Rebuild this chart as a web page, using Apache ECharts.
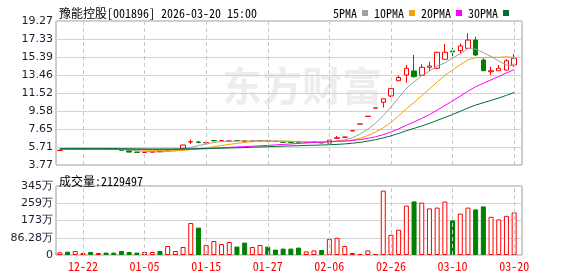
<!DOCTYPE html>
<html><head><meta charset="utf-8">
<script src="https://cdn.jsdelivr.net/npm/echarts@6/dist/echarts.min.js"></script>
<style>html,body{margin:0;padding:0;background:#fff}#c{width:578px;height:276px}</style>
</head><body><div id="c"></div>
<script>
const dates = ['12-17','12-18','12-19','12-22','12-23','12-24','12-25','12-26','12-29','12-30','12-31',
'01-05','01-06','01-07','01-08','01-09','01-12','01-13','01-14','01-15','01-16','01-19','01-20','01-21','01-22','01-23','01-26','01-27','01-28','01-29','01-30',
'02-02','02-03','02-04','02-05','02-06','02-09','02-10','02-11','02-12','02-13','02-24','02-25','02-26','02-27',
'03-02','03-03','03-04','03-05','03-06','03-09','03-10','03-11','03-12','03-13','03-16','03-17','03-18','03-19','03-20'];
const opens  = [5.33,5.52,5.47,5.51,5.53,5.50,5.52,5.49,5.45,5.30,5.16,5.12,5.15,5.24,5.30,5.44,5.58,6.25,6.24,6.16,6.40,6.38,6.34,6.40,6.34,6.34,6.38,6.37,6.31,6.24,6.22,6.23,6.19,6.26,6.17,6.12,6.64,6.75,7.45,8.19,9.01,9.91,10.52,11.20,12.84,13.46,13.89,13.43,14.29,14.18,15.15,16.04,16.07,16.33,17.22,15.07,13.81,13.92,13.99,14.53];
const closes = [5.36,5.49,5.53,5.53,5.50,5.52,5.49,5.45,5.35,5.16,5.13,5.15,5.20,5.20,5.45,5.47,5.92,6.28,6.22,6.18,6.39,6.39,6.35,6.39,6.35,6.35,6.39,6.35,6.30,6.22,6.20,6.22,6.20,6.28,6.15,6.45,6.70,6.77,7.45,8.19,9.01,9.91,10.90,11.99,13.19,14.18,13.28,14.29,14.43,15.90,15.90,15.95,16.58,17.22,15.61,13.92,13.92,14.18,15.00,15.26];
const lows   = [5.31,5.46,5.45,5.49,5.48,5.48,5.47,5.44,5.33,5.14,5.11,5.10,5.13,5.18,5.28,5.40,5.55,6.05,6.10,6.12,6.30,6.35,6.32,6.36,6.32,6.32,6.36,6.33,6.28,6.20,6.18,6.20,6.17,6.24,6.13,6.10,6.60,6.70,7.45,8.19,9.01,9.91,9.95,11.05,12.80,12.63,13.17,13.35,13.92,14.10,15.10,15.32,15.79,16.30,15.50,13.90,13.46,13.88,13.95,14.35];
const highs  = [5.38,5.54,5.55,5.55,5.55,5.54,5.53,5.50,5.46,5.30,5.18,5.17,5.22,5.26,5.48,5.50,5.95,6.51,6.35,6.22,6.45,6.42,6.38,6.42,6.38,6.37,6.41,6.38,6.33,6.26,6.24,6.25,6.22,6.30,6.19,6.47,6.90,6.82,7.45,8.19,9.01,9.91,10.90,11.99,13.40,14.53,15.61,14.61,14.89,15.95,16.79,16.40,16.87,17.95,17.58,15.26,14.35,14.53,15.15,15.72];
// volume in 万 (10k shares)
const volumes = [13.6,16.6,20,10,15,10,12,12,20,15,12,15,15,20,45,20,40,160,137,50,70,55,65,42,62,40,50,42,27,32,32,37,18,23,25,80,86,45,10,5,23,5,322,101,126,247,268,262,233,237,267,173,207,237,228,243,191,178,196,212.9497];
const volUp = [1,0,1,1,0,1,0,0,0,0,0,1,1,0,1,1,1,1,0,1,1,1,1,0,0,1,1,0,0,0,0,0,1,1,0,1,1,1,1,1,1,1,1,1,1,1,0,1,1,1,1,0,1,1,0,0,1,1,1,1];
const ma5  = [5.45,5.47,5.48,5.48,5.48,5.51,5.51,5.50,5.46,5.39,5.32,5.25,5.20,5.17,5.23,5.29,5.45,5.66,5.87,6.01,6.20,6.29,6.31,6.34,6.37,6.37,6.37,6.37,6.35,6.32,6.29,6.26,6.23,6.22,6.21,6.26,6.36,6.47,6.70,7.11,7.62,8.27,9.09,10.00,11.00,12.03,12.71,13.39,13.87,14.42,14.76,15.29,15.75,16.31,16.25,15.86,15.45,14.97,14.53,14.46];
const ma10 = [5.48,5.48,5.48,5.48,5.48,5.48,5.48,5.47,5.46,5.44,5.42,5.38,5.35,5.32,5.31,5.31,5.35,5.43,5.52,5.62,5.75,5.87,5.99,6.10,6.19,6.28,6.33,6.34,6.34,6.35,6.33,6.31,6.30,6.29,6.27,6.28,6.31,6.35,6.46,6.66,6.94,7.31,7.78,8.35,9.06,9.83,10.49,11.24,11.94,12.71,13.40,14.00,14.57,15.09,15.33,15.31,15.37,15.36,15.42,15.35];
const ma20 = [5.47,5.47,5.47,5.47,5.47,5.47,5.47,5.47,5.47,5.46,5.45,5.45,5.44,5.44,5.44,5.44,5.45,5.47,5.50,5.53,5.58,5.63,5.67,5.71,5.75,5.79,5.84,5.88,5.93,5.98,6.04,6.09,6.14,6.20,6.23,6.28,6.32,6.34,6.40,6.50,6.64,6.81,7.04,7.32,7.66,8.05,8.40,8.79,9.20,9.68,10.17,10.66,11.18,11.72,12.20,12.57,12.93,13.30,13.68,14.03];
const ma30 = [5.55,5.55,5.55,5.55,5.55,5.55,5.55,5.55,5.53,5.52,5.51,5.50,5.50,5.50,5.50,5.50,5.51,5.52,5.53,5.54,5.56,5.58,5.60,5.62,5.65,5.68,5.71,5.74,5.77,5.80,5.83,5.85,5.88,5.90,5.92,5.95,5.99,6.04,6.11,6.21,6.34,6.50,6.69,6.91,7.17,7.46,7.71,7.97,8.25,8.57,8.89,9.21,9.55,9.91,10.22,10.47,10.72,10.98,11.27,11.57];
const priceTicks = ['3.77','5.71','7.65','9.58','11.52','13.46','15.39','17.33','19.27'];
const volTicks = ['0','86.28万','173万','259万','345万'];
const xLabelDates = ['12-22','01-05','01-15','01-27','02-06','02-26','03-10','03-20'];
const priceMin = 3.77, priceMax = 19.27, volMax = 345.12;
const titleText = '豫能控股[001896] 2026-03-20 15:00';
const volText = '成交量:2129497';
const maNames = ['5PMA','10PMA','20PMA','30PMA'];
const maColors = ['#a0a0a0','#f2a300','#ff00ff','#006f35'];

const RED = '#ff0000', GREEN = '#008000';
const MONO = "'Noto Sans Mono CJK SC','Noto Sans CJK SC','DejaVu Sans Mono',monospace";
const AXF = "'DejaVu Sans',sans-serif";
const L = 56, W = 466, WD = 462;

const chart = echarts.init(document.getElementById('c'), null, {renderer:'canvas'});
const vlines = {
  silent: true, symbol: ['none','none'], label: {show:false},
  lineStyle: {type:[4,3], color:'#c8c8c8', width:1},
  emphasis: {disabled:true},
  data: xLabelDates.map(d => ({xAxis: d}))
};
const maSeries = [ma5, ma10, ma20, ma30].map((arr, k) => ({
  name: maNames[k], type: 'line', xAxisIndex: 1, yAxisIndex: 1, data: arr,
  showSymbol: false, symbol: 'none', z: 5, silent: true,
  lineStyle: {width: 1, color: maColors[k]}, itemStyle: {color: maColors[k]}
}));
chart.setOption({
  animation: false,
  backgroundColor: '#fff',
  title: [
    {text: titleText, left: 54, top: 2, textStyle: {fontFamily: MONO, fontSize: 12, fontWeight: 'normal', color: '#000'}},
    {text: volText, left: 54, top: 170, textStyle: {fontFamily: MONO, fontSize: 12, fontWeight: 'normal', color: '#000'}}
  ],
  legend: {
    data: maNames, right: 64, top: 2, align: 'right', icon: 'rect', itemWidth: 6, itemHeight: 6, itemGap: 6,
    textStyle: {fontFamily: MONO, fontSize: 12, color: '#000', padding: [0,0,0,0]}, selectedMode: false
  },
  graphic: [{
    type: 'text', left: 222, top: 66, z: -10, silent: true,
    style: {text: '东方财富', font: 'bold 40px "Noto Sans CJK SC"', fill: '#ededed'}
  }],
  grid: [
    {left: L, top: 21, width: W, height: 144, show: true, borderColor: '#9a9a9a', borderWidth: 1, backgroundColor: 'transparent'},
    {left: L, top: 21, width: WD, height: 144},
    {left: L, top: 186, width: W, height: 69, show: true, borderColor: '#9a9a9a', borderWidth: 1, backgroundColor: 'transparent'},
    {left: L, top: 186, width: WD, height: 69}
  ],
  xAxis: [
    {gridIndex: 0, type: 'value', min: 0, max: 1, show: false},
    {gridIndex: 1, type: 'category', data: dates, boundaryGap: true, axisLine: {show: false}, axisTick: {show: false}, axisLabel: {show: false}, splitLine: {show: false}},
    {gridIndex: 2, type: 'value', min: 0, max: 1, show: false},
    {gridIndex: 3, type: 'category', data: dates, boundaryGap: true, axisLine: {show: false}, axisTick: {show: false}, splitLine: {show: false},
      axisLabel: {interval: (i, v) => xLabelDates.includes(v), color: RED, fontFamily: MONO, fontSize: 12, margin: 5, hideOverlap: false}}
  ],
  yAxis: [
    {gridIndex: 0, type: 'value', min: 0, max: 8, interval: 1, axisLine: {show: false}, axisTick: {show: false},
      axisLabel: {formatter: v => priceTicks[Math.round(v)], color: '#1c1c30', fontFamily: AXF, fontSize: 11, margin: 3},
      splitLine: {lineStyle: {color: '#d2d2d2', width: 1}}},
    {gridIndex: 1, type: 'value', min: priceMin, max: priceMax, show: false, splitLine: {show: false}},
    {gridIndex: 2, type: 'value', min: 0, max: 4, interval: 1, axisLine: {show: false}, axisTick: {show: false},
      axisLabel: {formatter: v => volTicks[Math.round(v)], color: '#1c1c30', fontFamily: AXF, fontSize: 11, margin: 3},
      splitLine: {lineStyle: {color: '#d2d2d2', width: 1}}},
    {gridIndex: 3, type: 'value', min: 0, max: volMax, show: false, splitLine: {show: false}}
  ],
  series: [
    {type: 'candlestick', xAxisIndex: 1, yAxisIndex: 1, barWidth: 5, z: 3, silent: true,
      data: dates.map((d, i) => [opens[i], closes[i], lows[i], highs[i]]),
      itemStyle: {color: '#ffffff', color0: GREEN, borderColor: RED, borderColor0: GREEN, borderWidth: 1},
      markLine: vlines},
    ...maSeries,
    {type: 'bar', xAxisIndex: 3, yAxisIndex: 3, barWidth: 5, silent: true,
      data: volumes.map((v, i) => ({value: v, itemStyle: volUp[i] ? {color: '#ffffff', borderColor: RED, borderWidth: 1} : {color: GREEN, borderColor: GREEN, borderWidth: 1}})),
      markLine: vlines}
  ]
});
</script></body></html>
